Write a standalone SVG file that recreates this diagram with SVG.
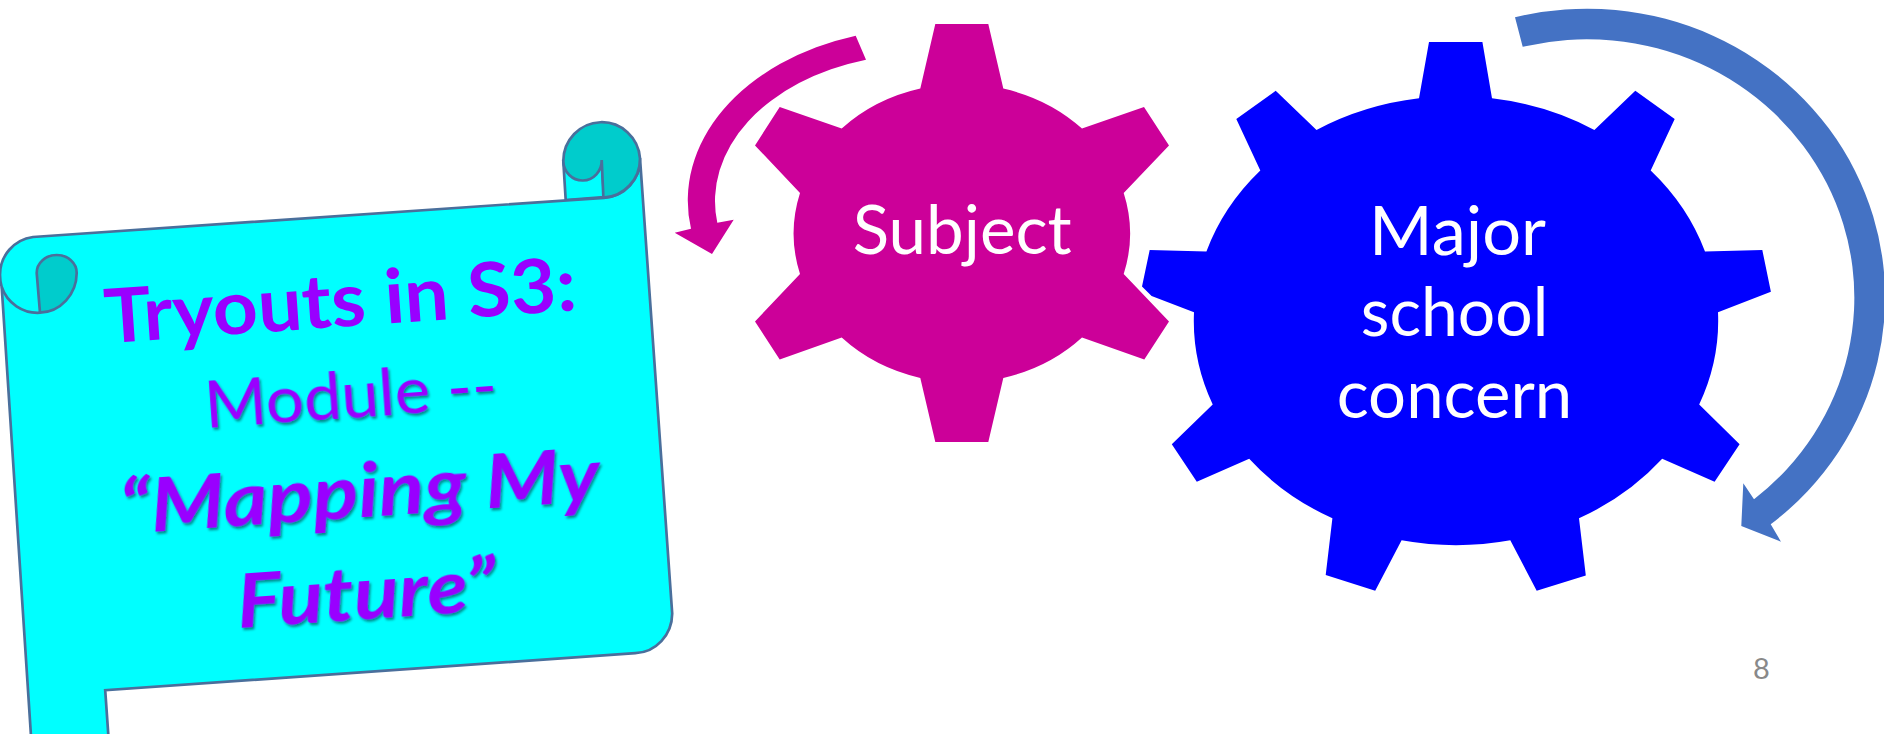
<svg xmlns="http://www.w3.org/2000/svg" width="1884" height="734" viewBox="0 0 1884 734">
<style>
.t{font-family:Lato,"Open Sans",sans-serif}
.w{fill:#fff;font-size:67px}
.p{fill:#9900ff}
.s{filter:url(#sh)}
.b{font-size:75px;font-weight:700}
.i{font-style:italic}
.cy{fill:#00ffff;stroke:#4a6f9c;stroke-width:2.7}
.dk{fill:#00cccc;stroke:#4a6f9c;stroke-width:2.7}
</style>
<defs><filter id="sh" x="-10%" y="-20%" width="120%" height="150%"><feDropShadow dx="1.5" dy="2.5" stdDeviation="1.2" flood-color="#000" flood-opacity=".45"/></filter></defs>
<rect width="1884" height="734" fill="#fff"/>
<g id="scroll">
<path class="cy" d="M563.3,161L565.7,200L604,197L601.7,160Z"/>
<path class="cy" d="M33,237L604,197.8A38.5,38 0 0 0 640,158.4L672.2,613.5A38,40 0 0 1 635.3,653.2L105.2,690.2L108.4,736L31,736L1.7,287Q0,281 0,275A38,38 0 0 1 33,237Z"/>
<path class="dk" d="M563.3,161A38.4,39 0 0 1 640,158.4A38.5,39 0 0 1 603.4,197.7L601.7,160A19.2,20 0 0 1 563.3,161Z"/>
<path class="dk" d="M36.7,273A20,18 0 0 1 76.7,273A38,40 0 0 1 40,312.7Z"/>
<path fill="none" stroke="#4a6f9c" stroke-width="2.7" d="M1.7,287A38,38 0 0 0 40,312.7"/>
<text class="t p b" transform="rotate(-4 106 343.2)" x="106" y="343.2" textLength="473" lengthAdjust="spacingAndGlyphs">Tryouts in S3:</text>
<text class="t p s" font-size="66" transform="rotate(-4 206 428)" x="206" y="428" textLength="293" lengthAdjust="spacingAndGlyphs">Module --</text>
<text class="t p b i s" transform="rotate(-4 121.4 534)" x="121.4" y="534" textLength="481" lengthAdjust="spacingAndGlyphs">“Mapping My</text>
<text class="t p b i s" transform="rotate(-4 238.5 627.7)" x="238.5" y="627.7" textLength="260" lengthAdjust="spacingAndGlyphs">Future”</text>
</g>
<g id="gear-subject">
<path fill="#cc0099" d="M935.3,24L988.3,24L1003.3,88.6A168,149 0 0 1 1082,128.6L1144,107L1169,145.4L1123.7,192.9A168,149 0 0 1 1123.7,274L1169,321.4L1144.3,359.6L1082,337.5A168,149 0 0 1 1003.3,377.9L988.3,442L935.3,442L920.3,377.9A168,149 0 0 1 841.7,337.5L779.7,359.6L755,321.4L800,274A168,149 0 0 1 800,192.9L755,145.4L779.7,107L841.7,128.6A168,149 0 0 1 920.3,88.6Z"/>
<text class="t w" x="852.7" y="254" textLength="219" lengthAdjust="spacingAndGlyphs">Subject</text>
</g>
<g id="gear-concern">
<path fill="#0000ff" d="M1429,42L1482.4,42L1492,98.3A262,224 0 0 1 1594.4,130L1635.3,90.8L1674.7,119L1650.7,170.4A262,224 0 0 1 1705,251.4L1762.3,250L1770.9,291.7L1718,312.3A262,224 0 0 1 1699.2,404.5L1739.6,444.3L1714.6,481.7L1662.2,458.8A262,224 0 0 1 1579,518.3L1585.8,575.4L1536.7,590.8L1510.3,540.3A262,224 0 0 1 1401.6,540.3L1375.2,590.8L1325.7,574.9L1332.4,518.3A262,224 0 0 1 1249.2,458.8L1196.8,481.7L1171.8,444.3L1212.7,404.5A262,224 0 0 1 1194,312.3L1151.6,295.9L1142,286.5L1149.7,250L1206.4,251.4A262,224 0 0 1 1260.3,170.4L1236.3,119L1275.7,90.8L1316.5,130A262,224 0 0 1 1419,98.3Z"/>
<text class="t w" x="1369" y="255" textLength="177" lengthAdjust="spacingAndGlyphs">Major</text>
<text class="t w" x="1360.8" y="336" textLength="187.5" lengthAdjust="spacingAndGlyphs">school</text>
<text class="t w" x="1336.7" y="418" textLength="235.6" lengthAdjust="spacingAndGlyphs">concern</text>
</g>
<g id="connectors">
<path fill="#cc0099" d="M855.7,35.7L866,59.7A209,147 0 0 0 717.3,222.7L733.7,219.7L712,254L674.7,232.7L691,228.7A236,172 0 0 1 855.7,35.7Z"/>
<path fill="#4472c4" d="M1515,17.3L1522.7,46.7A267.7,258.4 0 0 1 1754,499.3L1743.3,483.3L1741.3,526L1781,541.7L1770.7,524.3A298,288.4 0 0 0 1515,17.3Z"/>
</g>
<text id="page-number" class="t" x="1753" y="679" font-size="29" fill="#898989">8</text>
</svg>
